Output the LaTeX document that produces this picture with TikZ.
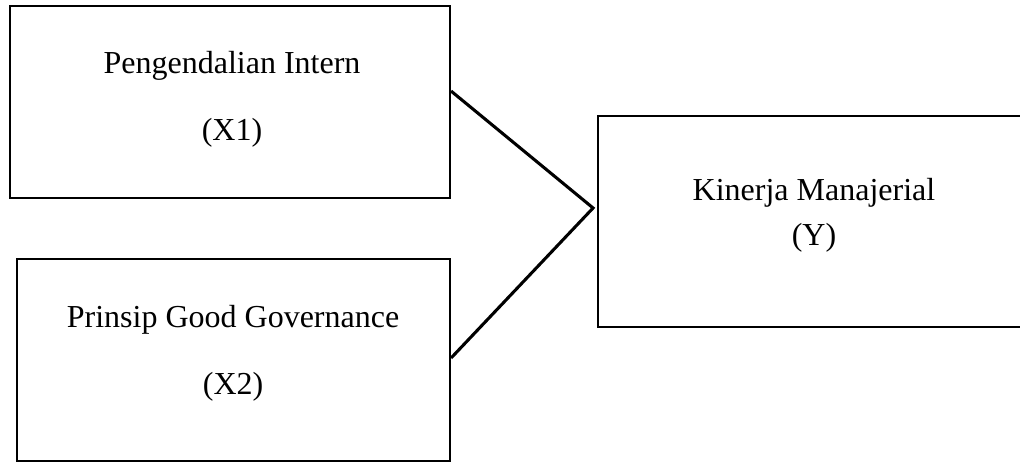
\documentclass[tikz,border=0pt]{standalone}
\usepackage{fontspec}
\setmainfont{Liberation Serif}
\usetikzlibrary{positioning, calc}

\begin{document}
\begin{tikzpicture}[
      var/.style={rectangle, draw, line width=0.8pt, inner sep=0pt},
      txt/.style={align=center, font=\fontsize{12pt}{25pt}\selectfont},
      link/.style={line width=1.15pt}]

      \clip (0,0) rectangle (382.5pt,-173.25pt);

      \node[var, minimum width=165pt, minimum height=72pt] (x1) at (86.25pt,-38.25pt) {};
      \node[txt] (x1text) at (87pt,-37.3pt) {Pengendalian Intern\\(X1)};

      \node[var, minimum width=162.4pt, minimum height=75.75pt] (x2) at (87.56pt,-135pt) {}; %
      \node[txt] (x2text) at (87.4pt,-132.4pt) {Prinsip Good Governance\\(X2)};

      \node[var, minimum width=162pt, minimum height=79.1pt] (y) at (305.25pt,-83.06pt) {}; %
      \node[txt, font=\fontsize{12pt}{17pt}\selectfont] (ytext) at (305.25pt,-80.8pt) {Kinerja Manajerial\\(Y)};

      \coordinate (join) at (222.4pt,-78pt);

      \draw[link] ($(x1.east)+(0,4.1pt)$) -- (join) -- ($(x2.east)+(0,0.75pt)$);
\end{tikzpicture}
\end{document}
